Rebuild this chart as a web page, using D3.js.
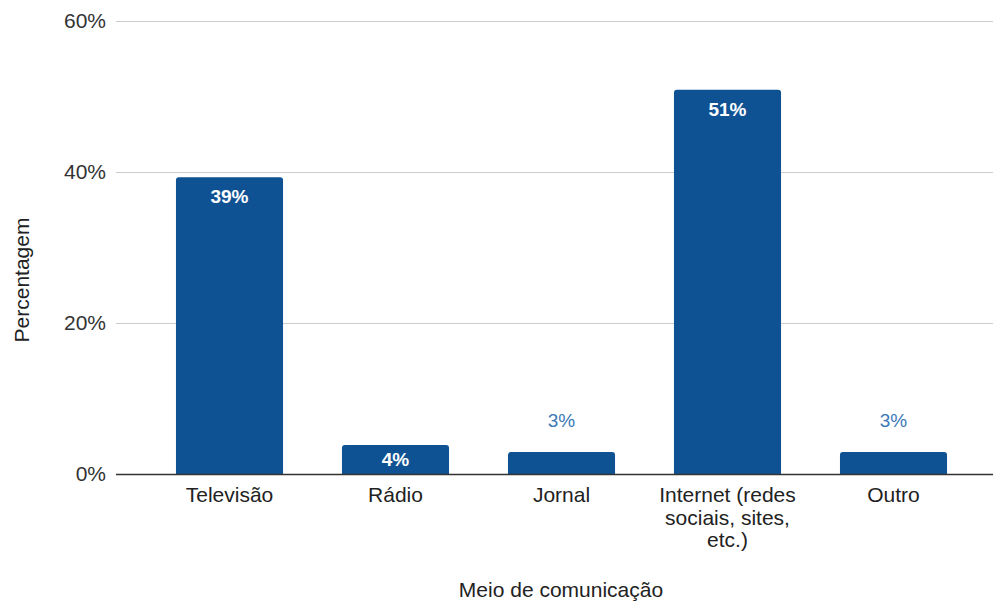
<!DOCTYPE html>
<html><head><meta charset="utf-8">
<script src="https://cdn.jsdelivr.net/npm/d3@7"></script>
<style>body{margin:0;background:#fff}svg{font-family:"Liberation Sans",Arial,sans-serif}</style>
</head><body><svg id="c" width="993" height="603"></svg>
<script>
const categories = ["Televisão","Rádio","Jornal","Internet (redes sociais, sites, etc.)","Outro"];
const categoryLines = [["Televisão"],["Rádio"],["Jornal"],["Internet (redes","sociais, sites,","etc.)"],["Outro"]];
const values = [39.3, 3.85, 2.9, 50.9, 2.9];
const valueLabels = ["39%","4%","3%","51%","3%"];
const labelInside = [true, true, false, true, false];
const yTicks = [0,20,40,60];

const FS = 21, LFS = 19;
const svg = d3.select("#c");
const m = {l:116};
const W = 993;
const x = d3.scaleBand().domain(categories).range([146.5, 976.5]).paddingInner(0.355).paddingOuter(0.1775);
const y = d3.scaleLinear().domain([0,60]).range([474, 21]);

svg.append("g").selectAll("line").data(yTicks.filter(d=>d>0)).join("line")
  .attr("x1", m.l).attr("x2", W).attr("y1", d=>y(d)+0.5).attr("y2", d=>y(d)+0.5)
  .attr("stroke","#cccccc").attr("stroke-width",1);

const yAxis = d3.axisLeft(y).tickValues(yTicks).tickFormat(d=>d+"%").tickSize(0).tickPadding(10);
const ga = svg.append("g").attr("transform",`translate(${m.l},0)`).call(yAxis);
ga.select(".domain").remove();
ga.selectAll("text").attr("font-size",FS).attr("fill","#333").attr("font-family","Liberation Sans, Arial, sans-serif");

const r = 3;
function barPath(d,i){
  const x0 = x(categories[i]), w = x.bandwidth(), y0 = y(d), y1 = y(0);
  return `M${x0},${y1}V${y0+r}Q${x0},${y0} ${x0+r},${y0}H${x0+w-r}Q${x0+w},${y0} ${x0+w},${y0+r}V${y1}Z`;
}
svg.append("g").selectAll("path").data(values).join("path")
  .attr("d", barPath).attr("fill","#0f5294");

svg.append("line").attr("x1",m.l).attr("x2",W).attr("y1",y(0)+0.5).attr("y2",y(0)+0.5)
  .attr("stroke","#333").attr("stroke-width",1.5);

function labelY(d,i){
  if (!labelInside[i]) return y(d) - 25;
  const h = y(0) - y(d);
  return Math.min(y(d) + 26, y(d) + h/2 + 7);
}
svg.append("g").selectAll("text").data(values).join("text")
  .attr("x",(d,i)=>x(categories[i])+x.bandwidth()/2)
  .attr("y",labelY)
  .attr("text-anchor","middle").attr("font-size",LFS)
  .attr("font-weight",(d,i)=>labelInside[i]?"bold":"normal")
  .attr("fill",(d,i)=>labelInside[i]?"#ffffff":"#3c78b8")
  .text((d,i)=>valueLabels[i]);

const cg = svg.append("g").selectAll("text").data(categories).join("text")
  .attr("text-anchor","middle").attr("font-size",FS).attr("fill","#222")
  .attr("x", d=>x(d)+x.bandwidth()/2).attr("y", 502);
cg.each(function(d,i){
  const t = d3.select(this);
  categoryLines[i].forEach((ln,j)=>{
    t.append("tspan").attr("x", x(d)+x.bandwidth()/2).attr("y", 502 + j*22.5).text(ln);
  });
});

svg.append("text").attr("x",561).attr("y",597).attr("text-anchor","middle")
  .attr("font-size",FS).attr("fill","#222").text("Meio de comunicação");
svg.append("text").attr("transform","translate(29,280) rotate(-90)").attr("text-anchor","middle")
  .attr("font-size",FS).attr("fill","#222").text("Percentagem");
</script></body></html>
